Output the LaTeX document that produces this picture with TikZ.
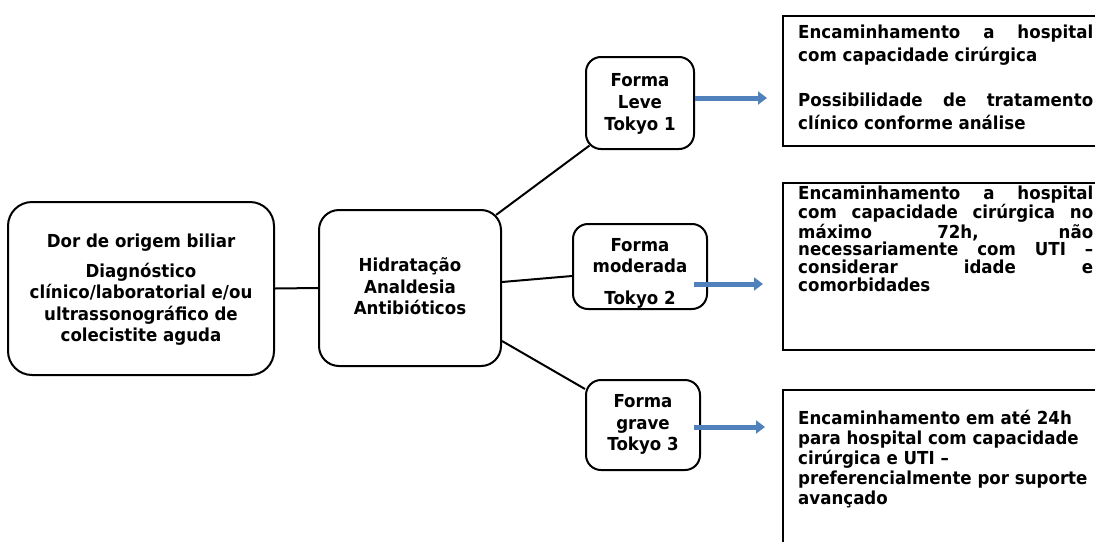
\documentclass[tikz,border=0pt]{standalone}
\usepackage{fontspec}
\setmainfont{DejaVu Sans}[FakeStretch=0.93]
\usetikzlibrary{arrows.meta,calc}
\definecolor{arrowblue}{HTML}{4F81BD}
\begin{document}
\begin{tikzpicture}[x=1pt,y=-1pt,
  box/.style={draw=black, line width=2pt, rounded corners=#1, inner sep=0pt},
  box/.default=15pt,
  infobox/.style={draw=black, line width=2.4pt, inner sep=0pt},
  txt/.style={align=center, inner sep=0pt, font=\bfseries\fontsize{17.9}{21.5}\selectfont},
  rtxt/.style={align=left, anchor=north west, inner sep=0pt,
               font=\bfseries\fontsize{17.9}{#1}\selectfont},
  link/.style={draw=black, line width=2pt},
  bluearrow/.style={draw=arrowblue, line width=5pt,
                    -{Triangle[length=9pt,width=13pt]}}]
\useasboundingbox (0,0) rectangle (1095,541);
\clip (0,0) rectangle (1095,541);

% rounded boxes of the flow
\node[box=24pt, minimum width=266pt, minimum height=173pt] (dor) at (141,288.5) {};
\node[txt] (dort) at (141,289.5) {Dor de origem biliar\\[8.5pt]Diagnóstico\\clínico/laboratorial e/ou\\ultrassonográfico de\\colecistite aguda};

\node[box=20pt, minimum width=182pt, minimum height=156pt] (trat) at (410,288) {};
\node[txt] (tratt) at (410,286.5) {Hidratação\\Analdesia\\Antibióticos};

\node[box, minimum width=108pt, minimum height=92pt] (leve) at (640,103) {};
\node[txt, font=\bfseries\fontsize{17.9}{22}\selectfont] (levet) at (640,104) {Forma\\Leve\\Tokyo 1};

\node[box, minimum width=134pt, minimum height=85pt] (mod) at (640,266.5) {};
\node[txt] (modt) at (640,273.5) {Forma\\moderada\\[10.5pt]Tokyo 2};

\node[box, minimum width=114pt, minimum height=90pt] (grave) at (643,425) {};
\node[txt] (gravet) at (643,424.5) {Forma\\grave\\Tokyo 3};

% outcome boxes on the right
\node[infobox, minimum width=327pt, minimum height=130pt] (r1) at (946.5,81) {};
\node[rtxt=22.7] (r1t) at (798,25) {\makebox[295pt][s]{Encaminhamento a hospital}\\com capacidade cirúrgica\\[22.7pt]\makebox[295pt][s]{Possibilidade de tratamento}\\clínico conforme análise};

\node[infobox, minimum width=327pt, minimum height=167pt] (r2) at (946.5,266.5) {};
\node[rtxt=17.8] (r2t) at (798,186) {\makebox[295pt][s]{Encaminhamento a hospital}\\\makebox[295pt][s]{com capacidade cirúrgica no}\\\makebox[295pt][s]{máximo 72h, não}\\\makebox[295pt][s]{necessariamente com UTI –}\\\makebox[295pt][s]{considerar idade e}\\comorbidades};

\node[infobox, minimum width=327pt, minimum height=170pt] (r3) at (946.5,475) {};
\node[rtxt=20] (r3t) at (798,410) {Encaminhamento em até 24h\\para hospital com capacidade\\cirúrgica e UTI –\\preferencialmente por suporte\\avançado};

% connectors
\draw[link] (dor.east) -- (trat.west);
\draw[link] ([xshift=-5.9pt,yshift=-5.9pt]trat.north east) -- ([xshift=4.4pt,yshift=4.4pt]leve.south west);
\draw[link] ([yshift=6pt]trat.east) -- ([yshift=-9.5pt]mod.west);
\draw[link] ([yshift=-53pt]trat.east) -- ([yshift=-10pt]grave.north west);

% block arrows towards the outcomes
\coordinate (a1) at (767,98);
\coordinate (a2) at (763,284);
\coordinate (a3) at (765,427);
\draw[bluearrow] (leve.east |- a1) -- (a1);
\draw[bluearrow] ($(mod.east |- a2)+(-14,0)$) -- (a2);
\draw[bluearrow] ($(grave.east |- a3)+(-7,0)$) -- (a3);
\end{tikzpicture}
\end{document}
